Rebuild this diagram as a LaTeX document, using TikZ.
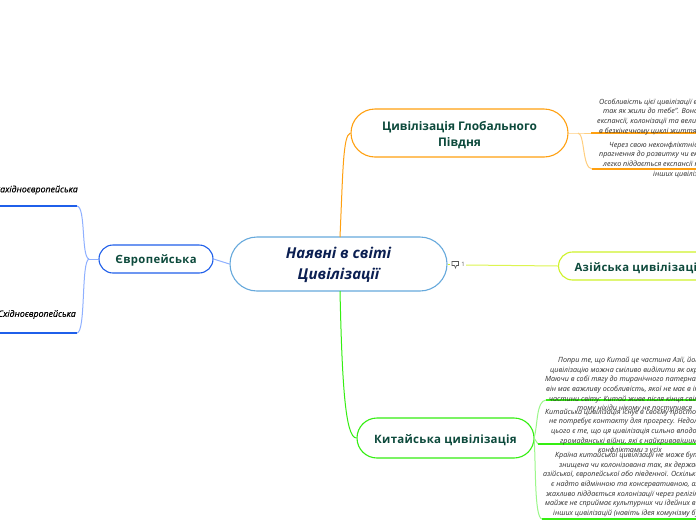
\documentclass[tikz,border=0pt]{standalone}
\usepackage{fontspec}
\setmainfont{Open Sans}
\definecolor{mainblue}{HTML}{66A9DC}
\definecolor{navy}{HTML}{0B1F52}
\definecolor{dgreen}{HTML}{0D4A3C}
\definecolor{orangeS}{HTML}{FFA010}
\definecolor{orangeL}{HTML}{FFCF80}
\definecolor{eblue}{HTML}{1F5FEA}
\definecolor{eblueL}{HTML}{8FB0FF}
\definecolor{yel}{HTML}{CFF22A}
\definecolor{yelL}{HTML}{DDF550}
\definecolor{gr}{HTML}{35EE12}
\definecolor{grL}{HTML}{9BF78A}
\definecolor{txt}{HTML}{2C2C2C}
\tikzset{
  pill/.style={draw,fill=white,line width=1.1pt,rounded corners=#1,align=center,inner sep=0pt,font=\bfseries\fontsize{11.9}{16}\selectfont,text=dgreen},
  note/.style={anchor=north west,inner sep=0pt,align=left,text=txt,font=\itshape\fontsize{7.15}{9.65}\selectfont},
  leaf/.style={inner sep=0pt,text=black,font=\itshape\fontsize{8.8}{10}\selectfont\addfontfeatures{FakeBold=0.15}},
  strongline/.style={line width=1.2pt},
  thinline/.style={line width=1pt}
}
\newcommand{\ind}[1]{\hspace*{#1pt}}
\newcommand{\dn}[1]{\rule{0pt}{#1pt}}
\begin{document}
\begin{tikzpicture}[x=1pt,y=-1pt]
\useasboundingbox (0,0) rectangle (696,520);
\clip (0,0) rectangle (696,520);
\fill[white] (0,0) rectangle (696,520);

% nodes
\node[pill=27pt,draw=mainblue,minimum width=217pt,minimum height=54pt,text=navy,font=\bfseries\itshape\fontsize{15}{20.5}\selectfont] (main) at (338.5,264) {\dn{13.5}Наявні в світі\\Цивілізації};
\node[pill=24pt,draw=orangeS,minimum width=217pt,minimum height=48pt] (south) at (459.5,133) {\dn{12.5}Цивілізація Глобального\\Півдня};
\node[pill=14pt,draw=eblue,minimum width=114pt,minimum height=28pt,font=\bfseries\fontsize{11.3}{14}\selectfont\addfontfeatures{LetterSpace=3}] (euro) at (156,259) {\dn{12}Європейська};
\node[pill=14pt,draw=yel,anchor=west,minimum height=28pt,inner xsep=16pt,font=\bfseries\fontsize{11.3}{14}\selectfont\addfontfeatures{LetterSpace=3}] (asia) at (558,266) {\dn{13}Азійська цивілізація};
\node[pill=20pt,draw=gr,minimum width=177pt,minimum height=40pt,font=\bfseries\fontsize{11.5}{14}\selectfont\addfontfeatures{LetterSpace=2.5}] (china) at (445.5,438) {\dn{13}Китайська цивілізація};

% free ends
\coordinate (mTop) at (340,237);
\coordinate (mBot) at (340,291);
\coordinate (jE) at (89,259);
\coordinate (eA) at (77,206);
\coordinate (eB) at (77,333);
\coordinate (eA0) at (0,206);
\coordinate (eB0) at (0,333);
\coordinate (jS) at (578,133);
\coordinate (sA) at (591,133);
\coordinate (sAe) at (696,133);
\coordinate (sB) at (592,169);
\coordinate (sBe) at (696,169);
\coordinate (jC) at (534,438);
\coordinate (cA) at (546,400);
\coordinate (cAe) at (696,400);
\coordinate (cB) at (538,444);
\coordinate (cBe) at (696,444);
\coordinate (cC) at (542,519);
\coordinate (cCe) at (696,519);
\coordinate (cm) at (450,264);
\coordinate (ci) at (466,265);

% connectors
\draw[orangeS,thinline] (mTop) .. controls (343,170) and (343,135) .. (south.west);
\draw[gr,thinline] (mBot) .. controls (342,380) and (345,438) .. (china.west);
\draw[eblueL,thinline] (main.west) -- (euro.east);
\draw[yel,thinline] (main.east) -- (cm);
\draw[yelL,thinline] (ci) -- (asia.west);

\draw[eblueL,thinline] (euro.west) -- (jE);
\draw[eblueL,thinline] (jE) .. controls (81,257) and (86,207) .. (eA);
\draw[eblueL,thinline] (jE) .. controls (81,261) and (86,332) .. (eB);
\draw[eblue,strongline] (eA) -- (eA0);
\draw[eblue,strongline] (eB) -- (eB0);

\draw[orangeL,thinline] (south.east) -- (jS) -- (sA);
\draw[orangeL,thinline] (jS) .. controls (585,134) and (582,168) .. (sB);
\draw[orangeS,strongline] (sA) -- (sAe);
\draw[orangeS,strongline] (sB) -- (sBe);

\draw[grL,thinline] (jC) .. controls (538,425) and (536,401) .. (cA);
\draw[grL,thinline] (jC) -- (cB);
\draw[grL,thinline] (jC) .. controls (536,460) and (534,518) .. (cC);
\draw[gr,strongline] (cA) -- (cAe);
\draw[gr,strongline] (cB) -- (cBe);
\draw[gr,strongline] (cC) -- (cCe);

% comment marker
\draw[line width=0.6pt,draw=black!65] (452,261.5) -- (458.5,261.5) -- (458.5,265.5) -- (456.5,265.5) -- (455.5,268) -- (454.5,265.5) -- (452,265.5) -- cycle;
\node[inner sep=0pt,text=black!65,font=\fontsize{6}{6}\selectfont] (cnt) at (463,264.5) {1};

% leaves
\node[leaf,anchor=east] (west) at (78,190) {Західноєвропейська};
\node[leaf,anchor=east] (east) at (76,314.5) {Східноєвропейська};

% notes
\node[note] (n1) at (597,98.5) {\ind{2}Особливість цієї цивілізації в\\
\ind{6}так як жили до тебе". Вона\\
експансії, колонізації та велич\\
\ind{2}в безкінечному циклі життя};
\node[note] (n2) at (599,141.5) {\ind{10}Через свою неконфліктність\\
прагнення до розвитку чи експансії\\
\ind{4}легко піддається експансії п\\
\ind{54}інших цивілізацій};
\node[note] (n3) at (545,357) {\ind{13}Попри те, що Китай це частина Азії, його\\
\ind{5}цивілізацію можна сміливо виділити як окрему.\\
Маючи в собі тягу до тиранічного патерналізму\\
\ind{1}він має важливу особливість, якої не має в інших\\
\ind{4}частини світу: Китай живе після кінця світу\\
\ind{32}тому ніхіди нікому не поступився};
\node[note] (n4) at (545,408.5) {Китайська цивілізація існує в своєму просторі,\\
\ind{4}не потребує контакту для прогресу. Недоліком\\
\ind{6}цього є те, що ця цивілізація сильно вподобає\\
\ind{15}громадянські війни, які є найкривавішими\\
\ind{53}конфліктами з усіх};
\node[note] (n5) at (543,452) {\ind{12}Країна китайської цивілізації не може бути\\
\ind{16}знищена чи колонізована так, як держави\\
азійської, європейської або південної. Оскільки\\
\ind{8}є надто відмінною та консервативною, але\\
\ind{3}жахливо піддається колонізації через релігію,\\
\ind{2}майже не сприймає культурних чи ідейних впливів\\
\ind{10}інших цивілізацій (навіть ідея комунізму була};
\end{tikzpicture}
\end{document}
